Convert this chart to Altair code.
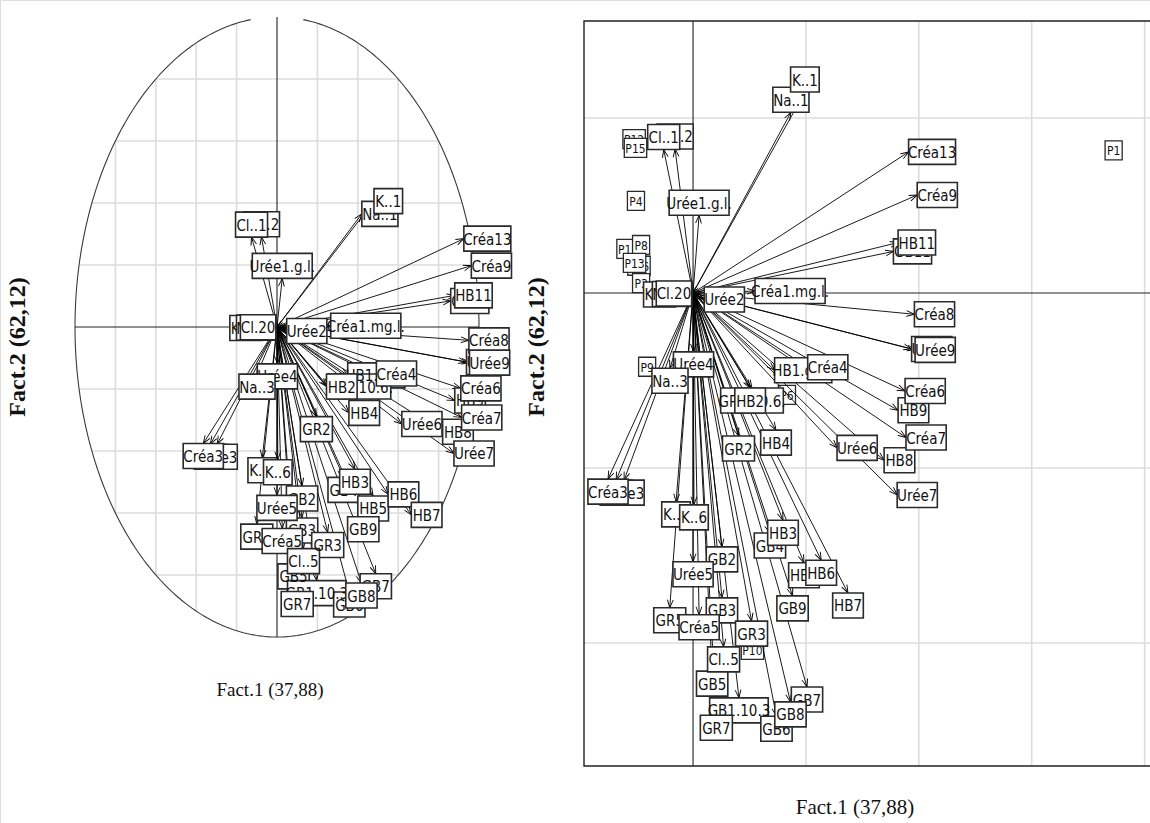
import math
import numpy as np
import pandas as pd
import altair as alt

# ---------------------------------------------------------------------------
# Variables: coordinates on the first factorial plane (Fact.1, Fact.2)
# ---------------------------------------------------------------------------
var_names = [
    "K.20", "Na.20", "Cl.20", "Na..2", "Cl..1", "Urée1.g.l.",
    "Na..1", "K..1", "Créa13", "Créa9", "GB11", "HB11",
    "Créa1.mg.l.", "Urée2", "Créa8", "Urée8", "Urée9",
    "HB1.g.dl.", "Créa4", "GR1.10.6.", "HB2", "HB4", "GR2",
    "Urée6", "HB8", "Urée7", "HB9", "Créa7", "Créa6",
    "Urée4", "Na..3", "Cl..3", "Urée3", "Créa3", "K..5", "K..6",
    "GB4", "HB3", "HB5", "HB6", "HB7", "GB9", "GB2", "Urée5",
    "GR5", "GB3", "Créa5", "GR3", "GB5", "Cl..5", "GB1.10.3",
    "GR7", "GB6", "GB7", "GB8",
]
var_f1 = [
    -0.075, -0.005, -0.006, -0.077, -0.126, 0.026,
    0.420, 0.480, 0.925, 0.962, 0.860, 0.880,
    0.266, 0.048, 0.950, 0.938, 0.953,
    0.350, 0.492, 0.253, 0.245, 0.356, 0.195,
    0.618, 0.820, 0.876, 0.880, 0.914, 0.910,
    0.002, -0.099, -0.330, -0.296, -0.365, -0.073, 0.004,
    0.330, 0.386, 0.476, 0.550, 0.665, 0.427, 0.124, 0.000,
    -0.100, 0.124, 0.026, 0.251, 0.082, 0.131, 0.197,
    0.100, 0.358, 0.489, 0.418,
]
var_f2 = [
    -0.003, -0.002, -0.001, 0.291, 0.290, 0.157,
    0.365, 0.406, 0.285, 0.198, 0.084, 0.102,
    0.004, -0.013, -0.043, -0.113, -0.115,
    -0.156, -0.150, -0.192, -0.192, -0.277, -0.289,
    -0.313, -0.338, -0.408, -0.237, -0.292, -0.198,
    -0.119, -0.152, -0.378, -0.378, -0.376, -0.422, -0.428,
    -0.485, -0.459, -0.545, -0.540, -0.606, -0.612, -0.513, -0.543,
    -0.636, -0.616, -0.650, -0.663, -0.764, -0.715, -0.818,
    -0.853, -0.855, -0.796, -0.826,
]
# stacking of the boxed labels (0 = bottom, 2 = top)
var_stack = [
    0, 1, 2, 0, 1, 1,
    0, 1, 1, 1, 0, 1,
    1, 1, 1, 0, 1,
    0, 1, 0, 1, 1, 1,
    1, 0, 1, 0, 1, 1,
    0, 1, 0, 1, 2, 0, 1,
    0, 1, 0, 1, 1, 1, 0, 1,
    0, 0, 1, 1, 0, 1, 0,
    1, 0, 0, 1,
]

# Individuals shown on the biplot
ind_names = ["P12", "P15", "P4", "P11", "P8", "P16", "P13", "P3",
             "P9", "P6", "P10", "P1"]
ind_f1 = [-0.253, -0.247, -0.245, -0.279, -0.223, -0.232, -0.251, -0.223,
          -0.197, 0.403, 0.255, 1.805]
ind_f2 = [0.311, 0.293, 0.186, 0.089, 0.097, 0.055, 0.061, 0.020,
          -0.149, -0.206, -0.721, 0.288]
ind_stack = [0, 1, 1, 0, 1, 0, 1, 1, 1, 1, 1, 1]

x_title = "Fact.1 (37,88)"
y_title = "Fact.2 (62,12)"

# ---------------------------------------------------------------------------
# Layout of the two panels (pixel ranges of the scales)
# ---------------------------------------------------------------------------
W, H = 1150, 823
L_XDOM, L_YDOM = [-1.0, 1.0], [-1.0, 1.0]
L_XRNG, L_YRNG = [75, 479], [637, 17]
R_XDOM, R_YDOM = [-0.468, 2.004], [-0.9556, 0.5495]
R_XRNG, R_YRNG = [584, 1160], [766, 21]
L_STEP = 0.2                          # grid step of the correlation circle
R_STEP_X, R_STEP_Y = 0.4845, 0.3535   # grid step of the biplot

LABEL_FONT = "Liberation Sans Narrow, Arial Narrow, DejaVu Sans Condensed, Liberation Sans, sans-serif"
TITLE_FONT = "Liberation Serif, Times New Roman, serif"
BOX_STROKE = "#2a2a2a"
GRID_COLOR = "#dcdcdc"

# advance widths (em) used to size the label boxes
CHAR_EM = {" ": 0.278, ".": 0.278, ",": 0.278, "C": 0.722, "r": 0.333,
           "é": 0.556, "e": 0.556, "a": 0.556, "K": 0.667, "N": 0.722,
           "H": 0.722, "B": 0.667, "G": 0.778, "R": 0.722, "U": 0.722,
           "l": 0.222, "m": 0.833, "g": 0.556, "d": 0.556, "P": 0.667}


def text_em(s):
    return sum(CHAR_EM.get(c, 0.556) for c in s)


def px_per_unit(dom, rng):
    return abs(rng[1] - rng[0]) / (dom[1] - dom[0])


def var_boxes(px_x, px_y, cmp_x, cmp_y, em_px=12.25, half_h=12.5):
    """Boxed labels placed beyond the arrow tips (box edge on the tip)."""
    rows = []
    for n, x, y, z in zip(var_names, var_f1, var_f2, var_stack):
        hw = text_em(" " + n + " ") * em_px / 2 / px_x
        yh = half_h / px_y
        xr, yr = x / cmp_x, y / cmp_y
        if xr > yr and xr > -yr:
            cx, cy = x + hw, y
        elif xr > yr:
            cx, cy = x, y - yh
        elif xr <= -yr:
            cx, cy = x - hw, y
        else:
            cx, cy = x, y + yh
        rows.append(dict(name=n, cx=cx, cy=cy, bx1=cx - hw, bx2=cx + hw,
                         by1=cy - yh, by2=cy + yh, z=z))
    return pd.DataFrame(rows)


def ind_boxes(px_x, px_y, em_px=9.6, half_h=9.5):
    rows = []
    for n, x, y, z in zip(ind_names, ind_f1, ind_f2, ind_stack):
        hw = text_em(" " + n + " ") * em_px / 2 / px_x
        yh = half_h / px_y
        rows.append(dict(name=n, cx=x, cy=y, bx1=x - hw, bx2=x + hw,
                         by1=y - yh, by2=y + yh, z=z))
    return pd.DataFrame(rows)


def arrows(px_x, px_y):
    df = pd.DataFrame({"name": var_names, "x": var_f1, "y": var_f2})
    df["x0"] = 0.0
    df["y0"] = 0.0
    df["ang"] = [math.degrees(math.atan2(a * px_x, b * px_y)) % 360
                 for a, b in zip(df["x"], df["y"])]
    return df


ARROW_HEAD = "M -0.36 1 L 0 0 L 0.36 1"


def panel(xdom, ydom, xrng, yrng, grid_df, extra_layers, boxes, arrow_df):
    sx = alt.Scale(domain=xdom, range=xrng, nice=False, zero=False)
    sy = alt.Scale(domain=ydom, range=yrng, nice=False, zero=False)

    def seg(df, **style):
        return alt.Chart(df).mark_rule(**style).encode(
            x=alt.X("x:Q", scale=sx, axis=None), x2="x2:Q",
            y=alt.Y("y:Q", scale=sy, axis=None), y2="y2:Q")

    layers = [seg(grid_df, color=GRID_COLOR, strokeWidth=1.6)]
    for kind, df, style in extra_layers:
        if kind == "seg":
            layers.append(seg(df, **style))
        elif kind == "line":
            layers.append(alt.Chart(df).mark_line(**style).encode(
                x=alt.X("x:Q", scale=sx, axis=None),
                y=alt.Y("y:Q", scale=sy, axis=None), order="i:Q"))
        elif kind == "frame":
            layers.append(alt.Chart(df).mark_rect(**style).encode(
                x=alt.X("x:Q", scale=sx, axis=None), x2="x2:Q",
                y=alt.Y("y:Q", scale=sy, axis=None), y2="y2:Q"))
        elif kind == "ind":
            for z in (0, 1):
                sub = df[df.z == z]
                layers.append(alt.Chart(sub).mark_rect(
                    fill="white", stroke=BOX_STROKE, strokeWidth=1.3).encode(
                    x=alt.X("bx1:Q", scale=sx, axis=None), x2="bx2:Q",
                    y=alt.Y("by1:Q", scale=sy, axis=None), y2="by2:Q"))
                layers.append(alt.Chart(sub).mark_text(
                    font=LABEL_FONT, fontSize=12, color="#111111",
                    align="center", baseline="middle", dy=1).encode(
                    x=alt.X("cx:Q", scale=sx, axis=None),
                    y=alt.Y("cy:Q", scale=sy, axis=None), text="name:N"))

    # arrows from the origin to each variable
    layers.append(alt.Chart(arrow_df).mark_rule(color="black", strokeWidth=0.9).encode(
        x=alt.X("x0:Q", scale=sx, axis=None), x2="x:Q",
        y=alt.Y("y0:Q", scale=sy, axis=None), y2="y:Q"))
    layers.append(alt.Chart(arrow_df).mark_point(
        shape=ARROW_HEAD, filled=False, size=256, color="black",
        strokeWidth=0.9, opacity=1).encode(
        x=alt.X("x:Q", scale=sx, axis=None),
        y=alt.Y("y:Q", scale=sy, axis=None),
        angle=alt.Angle("ang:Q", scale=None)))

    # boxed labels, bottom tier first
    for z in (0, 1, 2):
        sub = boxes[boxes.z == z]
        layers.append(alt.Chart(sub).mark_rect(
            fill="white", stroke=BOX_STROKE, strokeWidth=1.6).encode(
            x=alt.X("bx1:Q", scale=sx, axis=None), x2="bx2:Q",
            y=alt.Y("by1:Q", scale=sy, axis=None), y2="by2:Q"))
        layers.append(alt.Chart(sub).mark_text(
            font=LABEL_FONT, fontSize=15, color="#111111",
            align="center", baseline="middle", dy=1).encode(
            x=alt.X("cx:Q", scale=sx, axis=None),
            y=alt.Y("cy:Q", scale=sy, axis=None), text="name:N"))
    return alt.layer(*layers)


# ----------------------------- correlation circle --------------------------
lpx = px_per_unit(L_XDOM, L_XRNG)
lpy = px_per_unit(L_YDOM, L_YRNG)
g_rows = []
for k in range(-4, 5):
    if k == 0:
        continue
    v = k * L_STEP
    h = math.sqrt(1 - v * v)
    g_rows.append(dict(x=v, x2=v, y=-h, y2=h))
    g_rows.append(dict(x=-h, x2=h, y=v, y2=v))
left_grid = pd.DataFrame(g_rows)

theta = np.radians(np.linspace(97.5, 442.5, 361))
circle = pd.DataFrame({"i": np.arange(theta.size), "x": np.cos(theta), "y": np.sin(theta)})
left_axes = pd.DataFrame([dict(x=-1, x2=1, y=0, y2=0), dict(x=0, x2=0, y=-1, y2=1)])

left = panel(L_XDOM, L_YDOM, L_XRNG, L_YRNG, left_grid,
             [("line", circle, dict(color="#3a3a3a", strokeWidth=1.1)),
              ("seg", left_axes, dict(color="#222222", strokeWidth=1.1))],
             var_boxes(lpx, lpy, 1.0, 1.0), arrows(lpx, lpy))

# ----------------------------------- biplot --------------------------------
rpx = px_per_unit(R_XDOM, R_XRNG)
rpy = px_per_unit(R_YDOM, R_YRNG)
rg = []
for k in range(-3, 6):
    v = k * R_STEP_X
    if k != 0 and R_XDOM[0] < v < R_XDOM[1]:
        rg.append(dict(x=v, x2=v, y=R_YDOM[0], y2=R_YDOM[1]))
    w = k * R_STEP_Y
    if k != 0 and R_YDOM[0] < w < R_YDOM[1]:
        rg.append(dict(x=R_XDOM[0], x2=R_XDOM[1], y=w, y2=w))
right_grid = pd.DataFrame(rg)
right_axes = pd.DataFrame([dict(x=R_XDOM[0], x2=R_XDOM[1], y=0, y2=0),
                           dict(x=0, x2=0, y=R_YDOM[0], y2=R_YDOM[1])])
frame = pd.DataFrame([dict(x=R_XDOM[0], x2=R_XDOM[1], y=R_YDOM[0], y2=R_YDOM[1])])

right = panel(R_XDOM, R_YDOM, R_XRNG, R_YRNG, right_grid,
              [("seg", right_axes, dict(color="#222222", strokeWidth=1.1)),
               ("frame", frame, dict(fill="white", fillOpacity=0, stroke="#222222", strokeWidth=1.4)),
               ("ind", ind_boxes(rpx, rpy), {})],
              var_boxes(rpx, rpy, R_STEP_X, R_STEP_Y), arrows(rpx, rpy))

# ----------------------------------- titles --------------------------------
tdf = pd.DataFrame({"t": [x_title, y_title]})


def title(row, x, y, size, weight="normal", angle=0):
    return alt.Chart(tdf.iloc[[row]]).mark_text(
        font=TITLE_FONT, fontSize=size, fontWeight=weight, angle=angle,
        align="center", baseline="middle", color="#111111").encode(
        text="t:N", x=alt.value(x), y=alt.value(y))


titles = alt.layer(
    title(0, 270, 690, 19),
    title(1, 18, 347, 24, "bold", 270),
    title(0, 855, 808, 21),
    title(1, 537, 347, 24, "bold", 270),
)

chart = alt.layer(left, right, titles).resolve_scale(
    x="independent", y="independent"
).properties(
    width=W, height=H, padding=0,
    autosize=alt.AutoSizeParams(type="none"),
).configure_view(stroke=None).configure(background="white")

chart.save("out.html", embed_options={"renderer": "svg", "actions": False})
